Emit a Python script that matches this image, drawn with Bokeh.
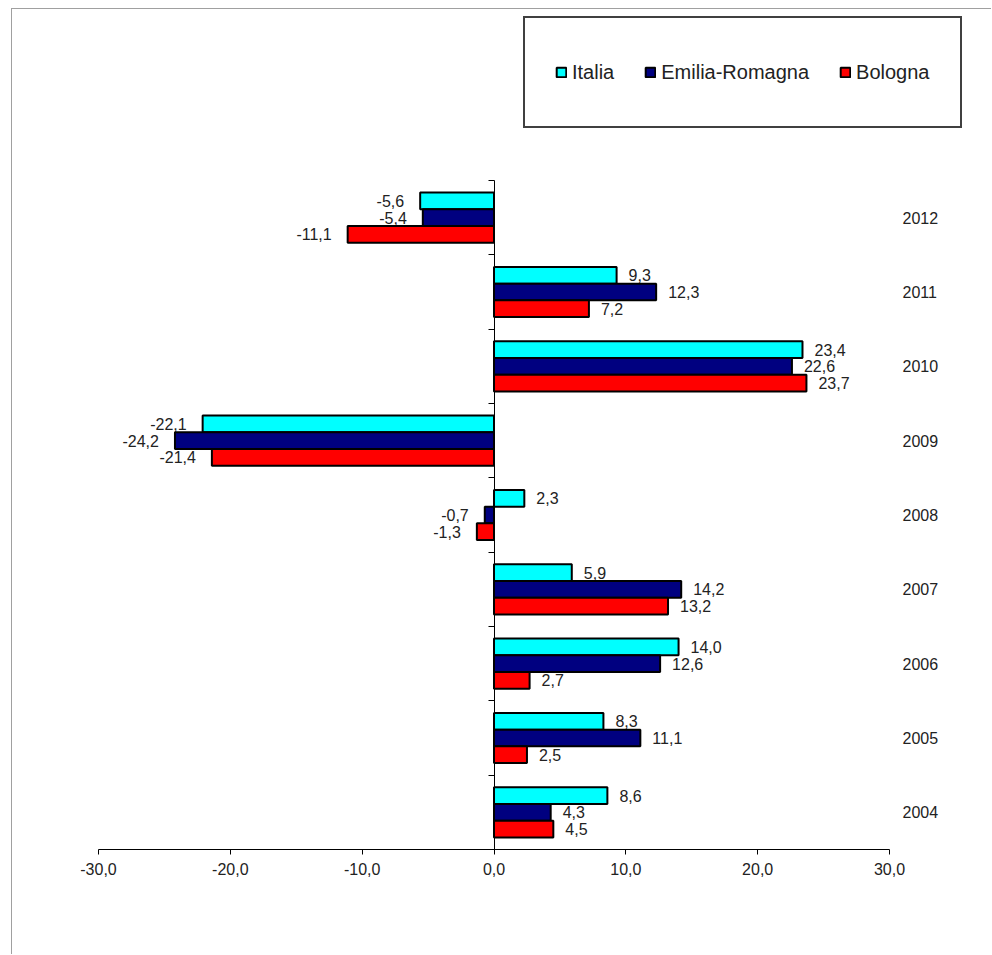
from bokeh.plotting import figure
from bokeh.models import (ColumnDataSource, FixedTicker, CustomJSTickFormatter,
                          Legend, LegendItem, Range1d)
from bokeh.core.properties import value
from bokeh.embed import file_html
from bokeh.resources import INLINE

# ---- data ----
years = ["2004", "2005", "2006", "2007", "2008", "2009", "2010", "2011", "2012"]
italia = [8.6, 8.3, 14.0, 5.9, 2.3, -22.1, 23.4, 9.3, -5.6]
emilia_romagna = [4.3, 11.1, 12.6, 14.2, -0.7, -24.2, 22.6, 12.3, -5.4]
bologna = [4.5, 2.5, 2.7, 13.2, -1.3, -21.4, 23.7, 7.2, -11.1]
series_names = ["Italia", "Emilia-Romagna", "Bologna"]
series_values = [italia, emilia_romagna, bologna]
x_ticks = [-30, -20, -10, 0, 10, 20, 30]

# ---- styles / layout (page pixels) ----
colors = ["#00FFFF", "#000080", "#FF0000"]
FONT = "Liberation Sans"
TXT = "#222222"
BAR_H = 0.225
offsets = [BAR_H, 0.0, -BAR_H]

ORIG_X, ORIG_Y = 12, 9          # where the figure content starts (after CSS margin + border)
W, H = 992 - ORIG_X, 955 - ORIG_Y
AX_L, AX_R = 98, 889            # page x of first / last x tick
AX_TOP, AX_BOT = 180, 849       # page y of plot area top / bottom
FRAME_L = 52                    # page x of frame left edge
MB_LEFT = FRAME_L - ORIG_X
MB_BOTTOM = 955 - AX_BOT

n = len(years)
xmin, xmax = x_ticks[0], x_ticks[-1]
sx = (AX_R - AX_L) / (xmax - xmin)
sy = (AX_BOT - AX_TOP) / n
x_start = xmin - (AX_L - FRAME_L) / sx
x_end = xmax + (992 - AX_R) / sx
y_end = n + (AX_TOP - ORIG_Y) / sy

p = figure(width=W, height=H, x_range=Range1d(x_start, x_end), y_range=Range1d(0, y_end),
           output_backend="svg", toolbar_location=None,
           min_border_left=MB_LEFT, min_border_right=0, min_border_top=0, min_border_bottom=MB_BOTTOM,
           outline_line_color=None, background_fill_color="white", border_fill_color="white")
p.styles = {"margin-left": "11px", "margin-top": "8px",
            "border-left": "1px solid #a0a0a0", "border-top": "1px solid #a0a0a0"}
p.xgrid.visible = False
p.ygrid.visible = False

renderers = []
for name, vals, color, off in zip(series_names, series_values, colors, offsets):
    ys = [i + 0.5 + off for i in range(n)]
    src = ColumnDataSource(dict(
        y=ys, right=vals,
        lbl=[f"{v:.1f}".replace(".", ",") for v in vals],
        align=["left" if v >= 0 else "right" for v in vals],
        xoff=[12 if v >= 0 else -16 for v in vals],
    ))
    r = p.hbar(y="y", left=0, right="right", height=BAR_H, fill_color=color,
               line_color="black", line_width=2, source=src)
    renderers.append(r)
    p.text(x="right", y="y", text="lbl", text_align="align", x_offset="xoff",
           text_baseline="middle", text_font=value(FONT), text_font_size="16px",
           text_color=TXT, source=src)

# year labels to the right of the plot area
ysrc = ColumnDataSource(dict(x=[xmax] * n, y=[i + 0.5 for i in range(n)], t=years))
p.text(x="x", y="y", text="t", x_offset=13, text_align="left", text_baseline="middle",
       text_font=value(FONT), text_font_size="16px", text_color=TXT, source=ysrc)

# bottom axis
p.xaxis.bounds = (xmin, xmax)
p.xaxis.ticker = FixedTicker(ticks=x_ticks)
p.xaxis.formatter = CustomJSTickFormatter(code="return tick.toFixed(1).replace('.', ',');")
p.xaxis.major_tick_out = 5
p.xaxis.major_tick_in = 0
p.xaxis.minor_tick_line_color = None
p.xaxis.axis_line_color = "black"
p.xaxis.major_tick_line_color = "black"
p.xaxis.major_label_standoff = 8
p.xaxis.major_label_text_font = FONT
p.xaxis.major_label_text_font_size = "16px"
p.xaxis.major_label_text_color = TXT

# vertical axis at zero
p.yaxis.fixed_location = 0
p.yaxis.bounds = (0, n)
p.yaxis.ticker = FixedTicker(ticks=list(range(n + 1)))
p.yaxis.formatter = CustomJSTickFormatter(code="return '';")
p.yaxis.major_label_standoff = 0
p.yaxis.major_tick_out = 6
p.yaxis.major_tick_in = 0
p.yaxis.minor_tick_line_color = None
p.yaxis.axis_line_color = "black"
p.yaxis.major_tick_line_color = "black"

legend = Legend(items=[LegendItem(label=nm, renderers=[r]) for nm, r in zip(series_names, renderers)],
                orientation="horizontal", location=(523 - FRAME_L, AX_BOT - 128),
                padding=30, spacing=30,
                glyph_width=12, glyph_height=12, label_standoff=5, label_height=48,
                label_text_font=FONT, label_text_font_size="20px", label_text_color=TXT,
                border_line_color="#404040", border_line_alpha=1.0, border_line_width=2,
                background_fill_color="white", background_fill_alpha=1.0)
p.add_layout(legend)

open("out.html", "w").write(file_html(p, INLINE))
